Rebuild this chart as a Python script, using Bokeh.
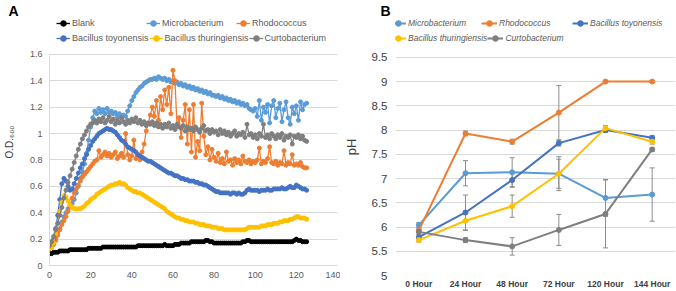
from bokeh.plotting import figure
from bokeh.models import (ColumnDataSource, Legend, LegendItem, FixedTicker,
                          CustomJSTickFormatter, Whisker, TeeHead,
                          FactorRange, Range1d, Title)
from bokeh.layouts import row
from bokeh.embed import file_html
from bokeh.resources import INLINE

# ---------------- Panel A data (O.D.600 vs time, h) ----------------
hours = list(range(126))
x_ticks_a = [0, 20, 40, 60, 80, 100, 120, 140]
y_ticks_a = [0, 0.2, 0.4, 0.6, 0.8, 1.0, 1.2, 1.4, 1.6]

blank = [0.09,0.09,0.10,0.10,0.10,0.11,0.11,0.11,0.11,0.11,
         0.12,0.12,0.12,0.12,0.12,0.12,0.12,0.12,0.12,0.13,
         0.13,0.13,0.13,0.13,0.13,0.13,0.14,0.14,0.14,0.14,
         0.14,0.14,0.14,0.14,0.14,0.14,0.14,0.14,0.14,0.14,
         0.14,0.14,0.14,0.15,0.15,0.15,0.15,0.15,0.15,0.15,
         0.15,0.15,0.15,0.15,0.15,0.15,0.16,0.15,0.15,0.15,
         0.15,0.16,0.16,0.16,0.17,0.17,0.17,0.17,0.17,0.18,
         0.18,0.18,0.18,0.18,0.18,0.18,0.19,0.19,0.18,0.18,
         0.17,0.17,0.17,0.17,0.17,0.17,0.17,0.17,0.17,0.17,
         0.17,0.17,0.17,0.17,0.18,0.18,0.19,0.19,0.18,0.18,
         0.18,0.18,0.18,0.18,0.18,0.18,0.18,0.18,0.18,0.18,
         0.18,0.18,0.18,0.18,0.18,0.18,0.18,0.18,0.18,0.19,
         0.20,0.19,0.19,0.18,0.18,0.18]

microbacterium = [0.13,0.14,0.16,0.20,0.24,0.28,0.33,0.37,0.40,0.43,
                  0.45,0.47,0.50,0.55,0.60,0.66,0.71,0.77,0.85,0.95,
                  1.05,1.12,1.17,1.15,1.19,1.16,1.18,1.15,1.19,1.16,
                  1.17,1.15,1.16,1.13,1.15,1.12,1.14,1.13,1.17,1.21,
                  1.25,1.28,1.31,1.33,1.35,1.36,1.38,1.39,1.40,1.41,
                  1.41,1.42,1.41,1.43,1.42,1.41,1.42,1.40,1.41,1.39,
                  1.40,1.38,1.39,1.37,1.38,1.36,1.37,1.35,1.36,1.34,
                  1.35,1.33,1.34,1.32,1.33,1.31,1.32,1.30,1.31,1.29,
                  1.29,1.28,1.29,1.27,1.28,1.26,1.27,1.25,1.26,1.24,
                  1.25,1.23,1.24,1.22,1.23,1.21,1.22,1.19,1.18,1.17,
                  1.19,1.13,1.25,1.10,1.20,1.16,1.22,1.08,1.21,1.25,
                  1.12,1.19,1.23,1.09,1.18,1.24,1.12,1.07,1.20,1.15,
                  1.21,1.10,1.24,1.18,1.22,1.23]

rhodococcus = [0.13,0.14,0.16,0.19,0.23,0.27,0.31,0.34,0.37,0.41,
               0.46,0.51,0.55,0.58,0.61,0.64,0.67,0.69,0.71,0.73,
               0.75,0.77,0.79,0.80,0.87,0.82,0.84,0.86,0.83,0.85,
               0.82,0.84,0.86,0.81,0.83,0.85,0.82,1.00,0.84,0.80,
               0.83,0.95,0.81,0.84,0.80,0.86,0.92,1.02,1.08,1.14,
               1.20,1.13,1.25,1.10,1.28,1.18,1.33,1.22,1.35,1.15,
               1.48,1.40,1.05,1.12,0.97,1.10,1.22,0.92,1.18,0.86,
               1.22,0.82,0.94,0.87,1.23,0.98,0.84,0.90,0.80,0.88,
               0.82,0.79,0.85,0.78,0.81,0.77,0.86,0.79,0.80,0.76,
               0.81,0.78,0.80,0.77,0.83,0.79,0.78,0.80,0.77,0.79,
               0.78,0.80,0.89,0.77,0.79,0.78,0.81,0.90,0.78,0.77,
               0.79,0.76,0.78,0.77,0.87,0.76,0.78,0.77,0.84,0.76,
               0.77,0.76,0.78,0.75,0.74,0.74]

toyonensis = [0.14,0.16,0.20,0.28,0.38,0.50,0.62,0.66,0.64,0.60,
              0.57,0.58,0.62,0.66,0.70,0.74,0.77,0.81,0.84,0.88,
              0.91,0.94,0.96,0.98,1.00,1.01,1.02,1.03,1.04,1.03,
              1.03,1.02,1.01,0.99,0.97,0.95,0.94,0.92,0.90,0.89,
              0.88,0.87,0.86,0.84,0.83,0.82,0.81,0.80,0.79,0.79,
              0.78,0.77,0.76,0.75,0.74,0.73,0.72,0.71,0.70,0.70,
              0.69,0.68,0.68,0.67,0.66,0.66,0.65,0.65,0.64,0.64,
              0.64,0.63,0.63,0.62,0.62,0.61,0.61,0.60,0.59,0.58,
              0.57,0.56,0.56,0.55,0.55,0.55,0.55,0.55,0.54,0.55,
              0.55,0.54,0.55,0.54,0.54,0.55,0.57,0.58,0.57,0.57,
              0.57,0.57,0.56,0.57,0.57,0.57,0.58,0.57,0.57,0.58,
              0.58,0.58,0.58,0.59,0.58,0.58,0.59,0.60,0.59,0.59,
              0.61,0.60,0.59,0.58,0.58,0.57]

thuringiensis = [0.13,0.14,0.17,0.24,0.32,0.41,0.48,0.53,0.52,0.49,
                 0.46,0.44,0.43,0.43,0.43,0.43,0.44,0.45,0.47,0.48,
                 0.50,0.51,0.52,0.54,0.55,0.56,0.57,0.58,0.59,0.60,
                 0.61,0.61,0.62,0.62,0.63,0.62,0.62,0.61,0.59,0.58,
                 0.57,0.56,0.56,0.55,0.55,0.54,0.53,0.52,0.51,0.50,
                 0.49,0.48,0.47,0.46,0.45,0.44,0.43,0.41,0.40,0.39,
                 0.38,0.37,0.36,0.36,0.35,0.35,0.34,0.34,0.33,0.33,
                 0.33,0.32,0.32,0.31,0.31,0.31,0.30,0.30,0.30,0.29,
                 0.29,0.29,0.28,0.28,0.28,0.27,0.27,0.27,0.27,0.27,
                 0.27,0.27,0.27,0.27,0.27,0.27,0.28,0.29,0.29,0.29,
                 0.29,0.29,0.29,0.30,0.30,0.30,0.31,0.31,0.31,0.32,
                 0.32,0.32,0.33,0.33,0.34,0.34,0.34,0.35,0.35,0.36,
                 0.37,0.37,0.36,0.36,0.36,0.35]

curtobacterium = [0.15,0.18,0.22,0.27,0.32,0.38,0.44,0.51,0.57,0.63,
                  0.68,0.73,0.78,0.83,0.88,0.92,0.96,0.99,1.02,1.05,
                  1.07,1.08,1.10,1.08,1.11,1.09,1.12,1.08,1.10,1.13,
                  1.09,1.11,1.07,1.10,1.08,1.12,1.09,1.07,1.10,1.08,
                  1.11,1.09,1.12,1.08,1.10,1.07,1.09,1.06,1.08,1.07,
                  1.09,1.06,1.08,1.05,1.07,1.04,1.07,1.05,1.08,1.04,
                  1.06,1.03,1.07,1.05,1.04,1.06,1.02,1.05,1.03,1.04,
                  1.02,1.05,1.03,1.01,1.04,1.06,1.02,1.03,1.00,1.03,
                  1.01,1.02,0.99,1.03,1.00,1.02,0.99,1.01,0.98,1.00,
                  1.02,0.98,1.00,0.99,1.01,0.97,1.07,0.99,1.00,0.97,
                  0.99,0.96,1.00,0.98,1.07,0.97,0.99,0.96,1.00,0.98,
                  0.96,0.99,0.97,1.00,0.95,0.98,0.97,0.99,0.92,0.98,
                  0.97,0.99,0.96,0.98,0.95,0.94]

names_a = ["Blank", "Microbacterium", "Rhodococcus",
           "Bacillus toyonensis", "Bacillus thuringiensis", "Curtobacterium"]
series_a = [blank, microbacterium, rhodococcus, toyonensis, thuringiensis, curtobacterium]
colors_a = ["#000000", "#5B9BD5", "#ED7D31", "#4472C4", "#FFC000", "#7F7F7F"]

# ---------------- Panel B data (pH) ----------------
times_b = ["0 Hour", "24 Hour", "48 Hour", "72 Hour", "120 Hour", "144 Hour"]
y_ticks_b = [5, 5.5, 6, 6.5, 7, 7.5, 8, 8.5, 9, 9.5]
names_b = ["Microbacterium", "Rhodococcus", "Bacillus toyonensis",
           "Bacillus thuringiensis", "Curtobacterium"]
ph_micro = [6.04, 7.11, 7.13, 7.10, 6.60, 6.67]
err_micro = [0.05, 0.26, 0.30, 0.35, 0.38, 0.55]
ph_rhodo = [5.93, 7.93, 7.76, 8.36, 9.00, 9.00]
err_rhodo = [0.04, 0.05, 0.05, 0.56, 0.02, 0.02]
ph_toyo = [5.79, 6.30, 6.97, 7.73, 8.00, 7.84]
err_toyo = [0.05, 0.36, 0.15, 0.06, 0.05, 0.05]
ph_thur = [5.73, 6.13, 6.43, 7.10, 8.04, 7.76]
err_thur = [0.04, 0.20, 0.23, 0.30, 0.05, 0.05]
ph_curto = [5.90, 5.73, 5.60, 5.94, 6.27, 7.60]
err_curto = [0.05, 0.05, 0.18, 0.32, 0.70, 0.04]
series_b = [ph_micro, ph_rhodo, ph_toyo, ph_thur, ph_curto]
errors_b = [err_micro, err_rhodo, err_toyo, err_thur, err_curto]
colors_b = ["#5B9BD5", "#ED7D31", "#4472C4", "#FFC000", "#7F7F7F"]

NARROW = "'Liberation Sans Narrow', 'Liberation Sans', sans-serif"
SANS = "'Liberation Sans', sans-serif"
fmt = CustomJSTickFormatter(code="return String(Math.round(tick*10)/10);")

# layout constants (pixels)
FRAME_TOP = 17
A_TOP_PX, A_BOT_PX = 53, 265     # pixel rows of y=1.6 and y=0 in panel A
B_TOP_PX, B_BOT_PX = 56, 275     # pixel rows of y=9.5 and y=5 in panel B
ROW_H = 14                       # legend row height
ROW1_C, ROW2_C = 23, 38          # legend row centres

a_lo, a_hi = y_ticks_a[0], y_ticks_a[-1]
a_end = a_hi + (A_TOP_PX - FRAME_TOP) * (a_hi - a_lo) / (A_BOT_PX - A_TOP_PX)
b_lo, b_hi = y_ticks_b[0], y_ticks_b[-1]
b_end = b_hi + (B_TOP_PX - FRAME_TOP) * (b_hi - b_lo) / (B_BOT_PX - B_TOP_PX)

def make_legend(items, loc, gw, lw, size, italic=False):
    return Legend(items=items, location=loc, orientation="horizontal",
                  glyph_width=gw, glyph_height=ROW_H, label_height=ROW_H, label_width=lw,
                  label_standoff=2, spacing=0, padding=0, margin=0,
                  border_line_color=None, background_fill_alpha=0,
                  label_text_font=NARROW, label_text_font_size=size,
                  label_text_color="#595959",
                  label_text_font_style="italic" if italic else "normal")

# ---------------- Panel A ----------------
pA = figure(width=340, height=291, x_range=Range1d(0, 140), y_range=Range1d(a_lo, a_end),
            output_backend="svg", toolbar_location=None,
            min_border_left=43, min_border_right=3, min_border_top=FRAME_TOP,
            min_border_bottom=291 - A_BOT_PX)
pA.frame_align = False
pA.title = Title(text="A", align="left", offset=-41, standoff=0,
                 text_font=SANS, text_font_size="14px", text_font_style="bold",
                 text_color="#000000")
pA.outline_line_color = None
pA.xgrid.visible = False
pA.ygrid.grid_line_color = "#d9d9d9"
pA.yaxis.ticker = FixedTicker(ticks=y_ticks_a)
pA.xaxis.ticker = FixedTicker(ticks=x_ticks_a)
pA.yaxis.formatter = fmt
for ax in (pA.xaxis[0], pA.yaxis[0]):
    ax.axis_line_color = "#d9d9d9"
    ax.major_tick_line_color = None
    ax.minor_tick_line_color = None
    ax.major_tick_out = 0
    ax.major_label_text_font = SANS
    ax.major_label_text_font_size = "9px"
    ax.major_label_text_color = "#595959"
pA.yaxis.bounds = (a_lo, a_hi)
pA.yaxis.major_label_standoff = 7
pA.xaxis.major_label_standoff = 6
pA.yaxis.axis_label = "O.D.\u2086\u2080\u2080"
pA.yaxis.axis_label_text_font = SANS
pA.yaxis.axis_label_text_font_size = "10px"
pA.yaxis.axis_label_text_font_style = "normal"
pA.yaxis.axis_label_text_color = "#404040"
pA.yaxis.axis_label_standoff = 12

items_a = []
for name, vals, col in zip(names_a, series_a, colors_a):
    src = ColumnDataSource(dict(t=hours, v=vals))
    rl = pA.line("t", "v", source=src, line_color=col, line_width=1.3)
    rs = pA.scatter("t", "v", source=src, size=4, fill_color=col, line_color=col)
    items_a.append(LegendItem(label=name, renderers=[rl, rs]))

pA.add_layout(make_legend(items_a[:3], (7, A_BOT_PX - ROW1_C - ROW_H // 2), 14, 74, "9px"))
pA.add_layout(make_legend(items_a[3:], (7, A_BOT_PX - ROW2_C - ROW_H // 2), 14, 74, "9px"))

# ---------------- Panel B ----------------
pB = figure(width=336, height=291, x_range=FactorRange(factors=times_b),
            y_range=Range1d(b_lo, b_end), output_backend="svg", toolbar_location=None,
            min_border_left=53, min_border_right=1, min_border_top=FRAME_TOP,
            min_border_bottom=291 - B_BOT_PX)
pB.frame_align = False
pB.title = Title(text="B", align="left", offset=-15, standoff=0,
                 text_font=SANS, text_font_size="14px", text_font_style="bold",
                 text_color="#000000")
pB.outline_line_color = None
pB.xgrid.visible = False
pB.ygrid.grid_line_color = "#d9d9d9"
pB.yaxis.ticker = FixedTicker(ticks=y_ticks_b)
pB.yaxis.formatter = fmt
pB.yaxis.bounds = (b_lo, b_hi)
for ax in (pB.xaxis[0], pB.yaxis[0]):
    ax.axis_line_color = None
    ax.major_tick_line_color = None
    ax.minor_tick_line_color = None
    ax.major_tick_out = 0
    ax.major_label_text_font = SANS
    ax.major_label_text_color = "#404040"
pB.yaxis.major_label_text_font_size = "11.5px"
pB.yaxis.major_label_standoff = 8
pB.xaxis.major_label_text_font_size = "8.5px"
pB.xaxis.major_label_text_font_style = "bold"
pB.xaxis.major_label_standoff = 3
pB.yaxis.axis_label = "pH"
pB.yaxis.axis_label_text_font = SANS
pB.yaxis.axis_label_text_font_size = "13px"
pB.yaxis.axis_label_text_font_style = "normal"
pB.yaxis.axis_label_text_color = "#404040"
pB.yaxis.axis_label_standoff = 10

items_b = []
for name, vals, errs, col in zip(names_b, series_b, errors_b, colors_b):
    src = ColumnDataSource(dict(x=times_b, v=vals,
                                up=[v + e for v, e in zip(vals, errs)],
                                lo=[v - e for v, e in zip(vals, errs)]))
    rl = pB.line("x", "v", source=src, line_color=col, line_width=2)
    rs = pB.scatter("x", "v", source=src, size=5, fill_color=col, line_color=col)
    items_b.append(LegendItem(label=name, renderers=[rl, rs]))
    pB.add_layout(Whisker(source=src, base="x", upper="up", lower="lo",
                          line_color="#8c8c8c", line_width=1,
                          upper_head=TeeHead(size=5, line_color="#8c8c8c"),
                          lower_head=TeeHead(size=5, line_color="#8c8c8c")))

pB.add_layout(make_legend(items_b[:3], (-5, B_BOT_PX - ROW1_C - ROW_H // 2), 16, 73, "8.5px", italic=True))
pB.add_layout(make_legend(items_b[3:], (-5, B_BOT_PX - ROW2_C - ROW_H // 2), 16, 73, "8.5px", italic=True))

layout = row(pA, pB)
open("out.html", "w").write(file_html(layout, INLINE))
